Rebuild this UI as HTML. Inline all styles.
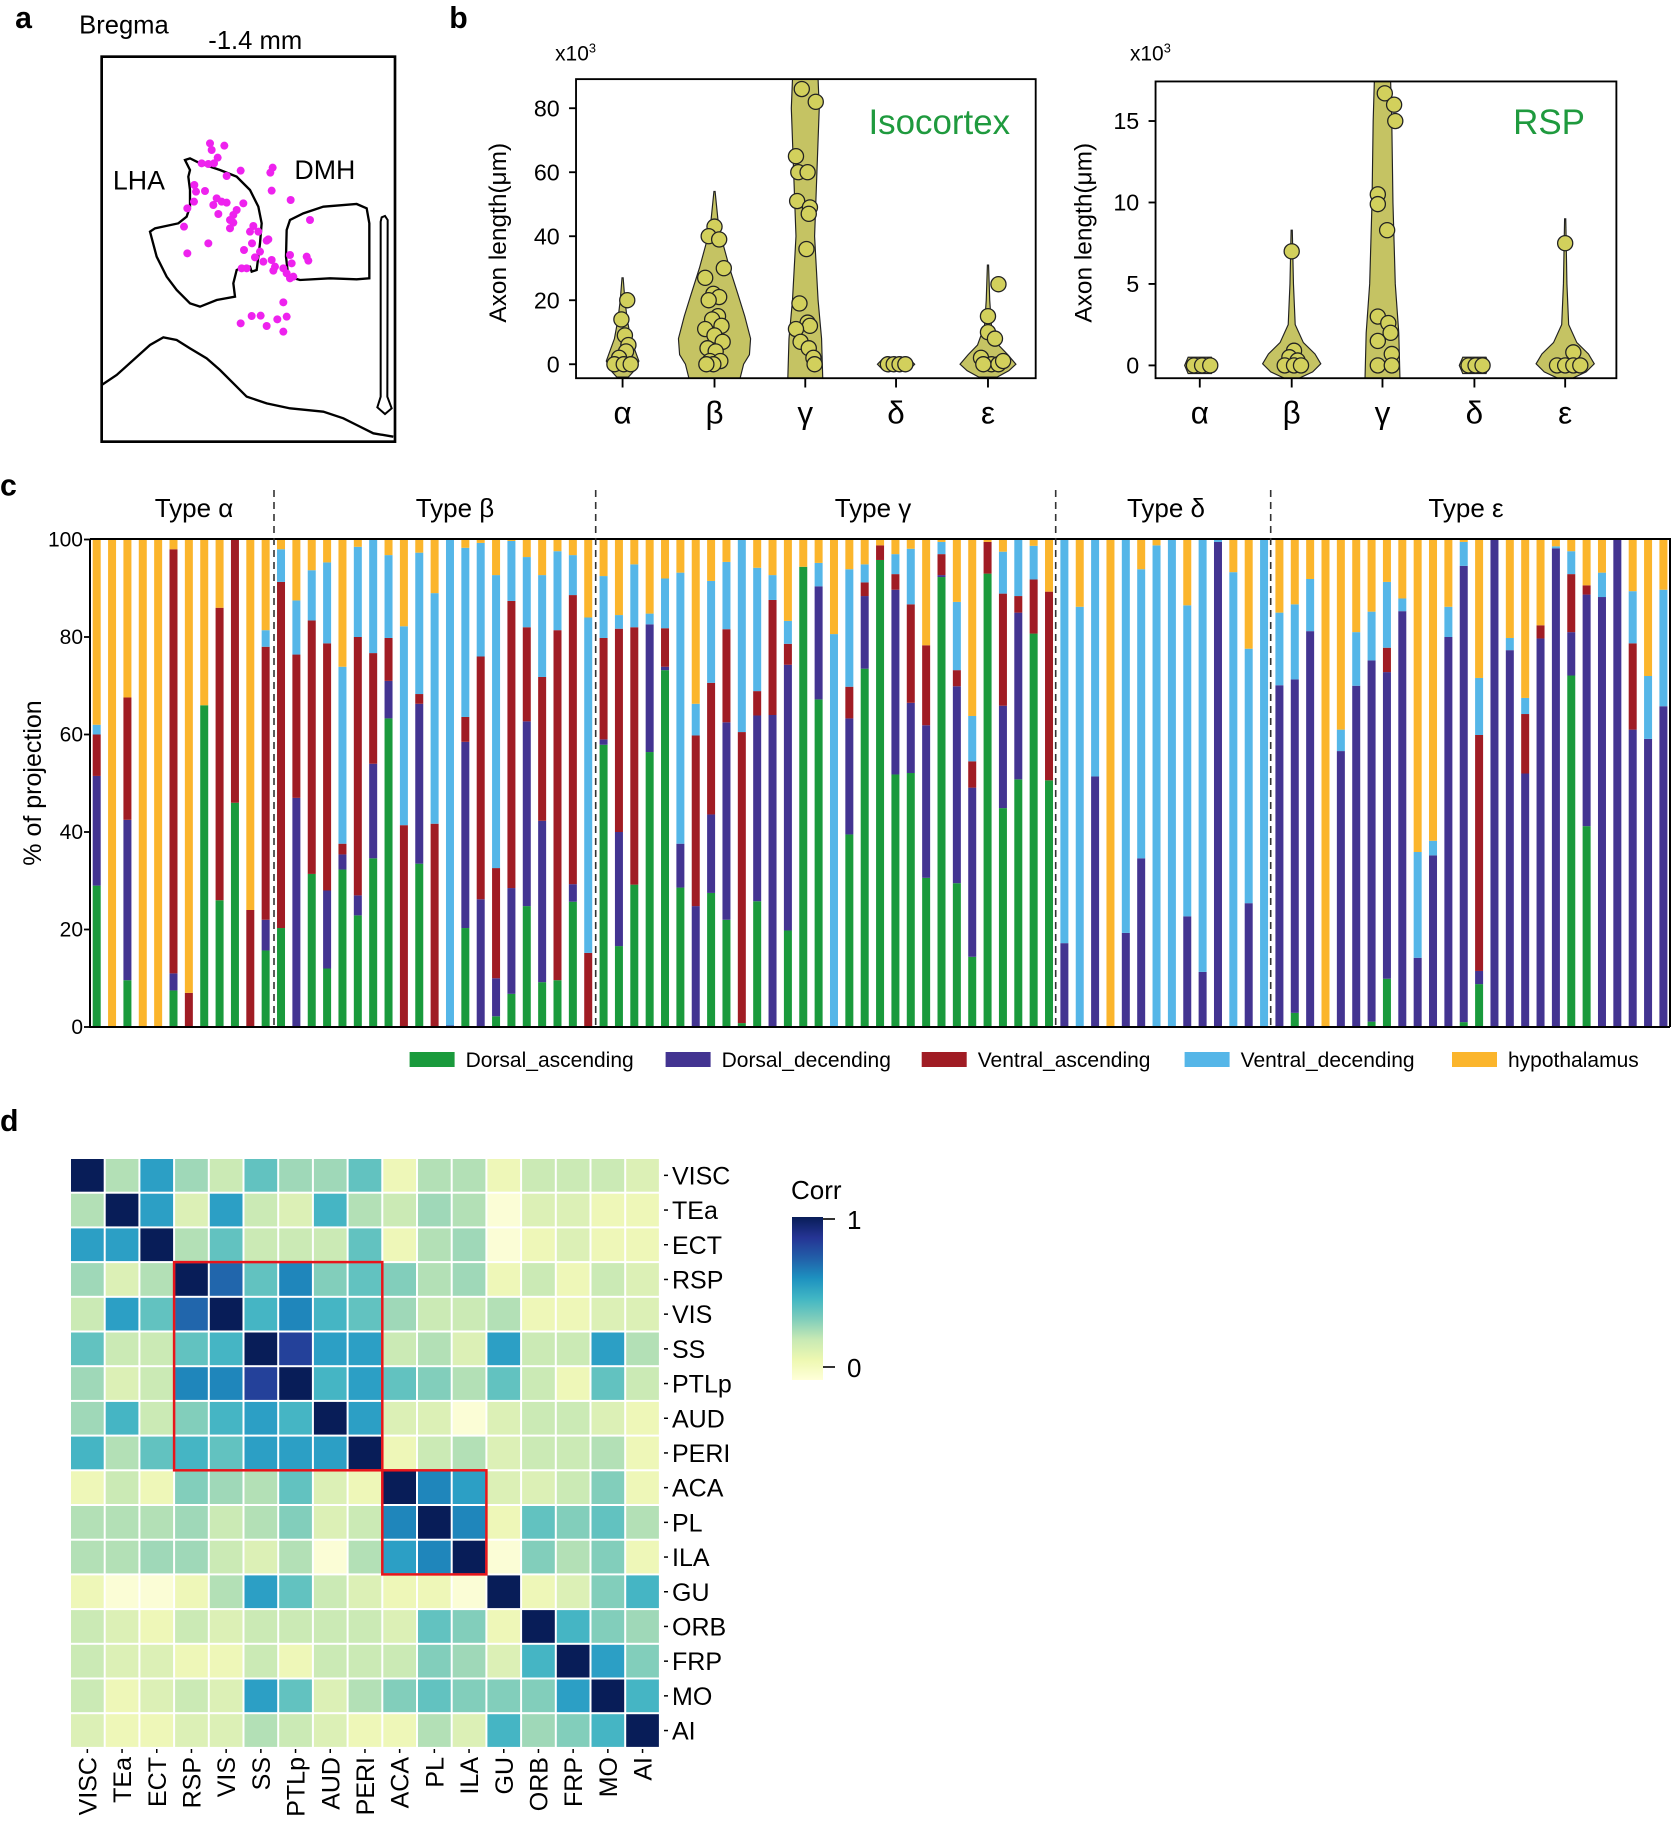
<!DOCTYPE html>
<html><head><meta charset="utf-8">
<style>
html,body{margin:0;padding:0;background:#fff;}
svg{display:block;font-family:"Liberation Sans",Arial,sans-serif;}
</style></head>
<body>
<svg id="s" width="1671" height="1824" viewBox="0 0 1671 1824" xmlns="http://www.w3.org/2000/svg">
<g transform="translate(90,50) scale(0.33333)" fill="none" stroke="#000" stroke-width="7">
  <rect x="35" y="20" width="880" height="1155" stroke-width="8"/>
  <path d="M285,330 L300,325 L330,340 L390,360 L440,380 L480,420 L505,470 L515,520 L510,580 L505,620 L500,660 L485,665 L480,650 L460,650 L440,660 L430,700 L435,740 L380,750 L330,770 L300,760 L260,720 L230,680 L200,620 L180,545 L195,535 L265,520 L290,500 L300,470 L300,420 L295,380 L300,360 Z"/>
  <path d="M590,540 L600,510 L640,490 L700,470 L800,462 L830,475 L838,520 L838,685 L800,688 L720,685 L630,690 L595,680 L588,620 Z"/>
  <path d="M35,1005 L80,975 L130,930 L180,885 L220,862 L260,870 L300,895 L350,925 L390,960 L430,1000 L470,1040 L530,1060 L600,1075 L700,1085 L760,1105 L800,1125 L850,1150 L910,1160"/>
  <path d="M872,515 L875,502 L885,498 L893,510 L892,1040 L905,1075 L885,1092 L862,1072 L872,1040 Z" stroke-width="6"/>
</g>
<g transform="translate(90,50) scale(0.33333)" fill="#ee22ee" id="dots"></g>
<g transform="scale(1.1637)">
  <text x="13" y="24" font-size="26" font-weight="bold">a</text>
  <text x="68" y="29" font-size="22">Bregma</text>
  <text x="179" y="42" font-size="22">-1.4 mm</text>
  <text x="97" y="163" font-size="23">LHA</text>
  <text x="253" y="154" font-size="23">DMH</text>
  <text x="386" y="24" font-size="26" font-weight="bold">b</text>
  <text x="0" y="972" font-size="26" font-weight="bold">d</text>
  <text x="0" y="426" font-size="26" font-weight="bold">c</text>
  <g id="vl"></g>
  <rect x="495" y="68" width="395" height="257" fill="none" stroke="#000" stroke-width="1.6"/>
  <text x="477" y="52" font-size="18">x10<tspan font-size="11" dy="-7">3</tspan></text>
  <text x="971" y="52" font-size="18">x10<tspan font-size="11" dy="-7">3</tspan></text>
  <text transform="translate(435,200) rotate(-90)" text-anchor="middle" font-size="21">Axon length(μm)</text>
  <text transform="translate(938,200) rotate(-90)" text-anchor="middle" font-size="21">Axon length(μm)</text>
  <text x="868" y="115" text-anchor="end" font-size="30" fill="#1f9a3e">Isocortex</text>
  <text x="1362" y="115" text-anchor="end" font-size="30" fill="#1f9a3e">RSP</text>
  <g id="vr"></g>
  <rect x="993" y="70" width="396" height="255" fill="none" stroke="#000" stroke-width="1.6"/>
</g>
<g id="bars"></g>
<g id="heat"></g>
</svg>
<script>
var NS="http://www.w3.org/2000/svg";
function el(p,t,a,txt){var e=document.createElementNS(NS,t);for(var k in a)e.setAttribute(k,a[k]);if(txt!==undefined)e.textContent=txt;p.appendChild(e);return e;}
var D=[[360,280],[365,300],[403,287],[383,323],[372,340],[335,340],[355,342],[410,378],[452,362],[548,353],[541,368],[313,405],[318,425],[345,423],[312,455],[292,475],[380,445],[370,465],[395,455],[410,458],[460,460],[440,480],[430,495],[385,492],[420,510],[430,518],[420,535],[490,528],[480,545],[505,545],[535,568],[530,572],[486,580],[462,600],[510,605],[495,622],[520,635],[455,655],[470,655],[545,630],[555,650],[550,662],[580,655],[600,615],[605,640],[590,670],[610,680],[600,685],[650,620],[655,632],[355,580],[292,610],[282,530],[545,422],[602,450],[660,510],[580,757],[452,820],[485,798],[512,797],[530,828],[562,808],[590,800],[580,845]];
var dg=document.getElementById('dots');D.forEach(function(d){el(dg,'circle',{cx:d[0],cy:d[1],r:12});});
var VC="#c5c363",PC="#d2d05c";
function violin(g,x,pts){
  var d="M"+x+","+pts[0][0];
  pts.forEach(function(p){d+=" L"+(x+p[1])+","+p[0];});
  for(var i=pts.length-1;i>=0;i--)d+=" L"+(x-pts[i][1])+","+pts[i][0];
  d+="Z";el(g,'path',{d:d,fill:VC,stroke:"#222","stroke-width":1});
}
function dots(g,arr){arr.forEach(function(p){el(g,'circle',{cx:p[0],cy:p[1],r:6.5,fill:PC,stroke:"#222","stroke-width":1.1});});}
var vl=document.getElementById('vl');
function yl(v){return 313-v*2.75;}
violin(vl,535,[[yl(27),0.5],[yl(20),2],[yl(14),4],[yl(8),7],[yl(4),11],[yl(1),14],[yl(-2),10],[yl(-4),5]]);
violin(vl,614,[[yl(54),0.5],[yl(45),3],[yl(38),7],[yl(30),13],[yl(22),20],[yl(15),26],[yl(8),31],[yl(3),30],[yl(0),25],[325,22]]);
violin(vl,692,[[68,11],[yl(80),12],[yl(60),10],[yl(40),8],[yl(20),11],[yl(8),14],[325,15]]);
violin(vl,770,[[yl(1.5),12],[yl(0),16],[yl(-1.5),12]]);
violin(vl,849,[[yl(31),0.5],[yl(20),1.5],[yl(12),3],[yl(6),9],[yl(3),17],[yl(0),24],[yl(-2),18],[yl(-4),8]]);
dots(vl,[[539,yl(20)],[534,yl(14)],[537,yl(9)],[540,yl(6)],[538,yl(4)],[532,yl(2)],[528,yl(0)],[536,yl(0)],[542,yl(0)],
[614,yl(43)],[609,yl(40)],[618,yl(39)],[622,yl(30)],[606,yl(27)],[613,yl(22)],[618,yl(21)],[609,yl(20)],[617,yl(15)],[612,yl(14)],[620,yl(12)],[606,yl(11)],[614,yl(9)],[621,yl(7)],[608,yl(5)],[615,yl(4)],[610,yl(1)],[619,yl(1)],[613,yl(0)],[607,yl(0)],
[689,yl(86)],[701,yl(82)],[684,yl(65)],[686,yl(60)],[694,yl(60)],[685,yl(51)],[696,yl(49)],[695,yl(47)],[693,yl(36)],[687,yl(19)],[694,yl(13)],[696,yl(12)],[684,yl(11)],[688,yl(7)],[695,yl(5)],[699,yl(2)],[700,yl(0)],
[763,yl(0)],[768,yl(0)],[773,yl(0)],[778,yl(0)],
[858,yl(25)],[849,yl(15)],[849,yl(10)],[855,yl(8)],[843,yl(2)],[852,yl(0)],[858,yl(0)],[845,yl(0)],[862,yl(1)]]);
function tk(g,x1,y1,x2,y2){el(g,'line',{x1:x1,y1:y1,x2:x2,y2:y2,stroke:"#000","stroke-width":1.6});}
[0,20,40,60,80].forEach(function(v){tk(vl,489,yl(v),495,yl(v));el(vl,'text',{x:481,y:yl(v)+7,"text-anchor":"end","font-size":20},v);});
var G=["α","β","γ","δ","ε"];
[535,614,692,770,849].forEach(function(x,i){tk(vl,x,325,x,333);el(vl,'text',{x:x,y:364,"text-anchor":"middle","font-size":27},G[i]);});
var vr=document.getElementById('vr');
function yr(v){return 314-v*14;}
violin(vr,1031,[[yr(0.5),10],[yr(0),13],[yr(-0.5),10]]);
violin(vr,1110,[[yr(8.3),0.5],[yr(5),1.5],[yr(2.5),3],[yr(1.4),10],[yr(0.7),20],[yr(0.1),25],[yr(-0.4),18],[yr(-0.8),6]]);
violin(vr,1188,[[70,7],[yr(15),8],[yr(10),9],[yr(5),11],[yr(2),14],[325,15]]);
violin(vr,1267,[[yr(0.5),10],[yr(0),13],[yr(-0.5),10]]);
violin(vr,1345,[[yr(9),0.5],[yr(5),1.5],[yr(2.5),3],[yr(1.4),10],[yr(0.7),20],[yr(0.1),25],[yr(-0.4),18],[yr(-0.8),6]]);
dots(vr,[[1026,yr(0)],[1033,yr(0)],[1040,yr(0)],
[1110,yr(7)],[1112,yr(0.9)],[1108,yr(0.5)],[1115,yr(0.3)],[1104,yr(0)],[1112,yr(0)],[1118,yr(0)],
[1190,yr(16.7)],[1198,yr(16)],[1199,yr(15)],[1184,yr(10.5)],[1184,yr(9.9)],[1192,yr(8.3)],[1184,yr(3)],[1193,yr(2.6)],[1195,yr(2)],[1184,yr(1.5)],[1196,yr(0.7)],[1184,yr(0)],[1196,yr(0)],
[1262,yr(0)],[1268,yr(0)],[1274,yr(0)],
[1345,yr(7.5)],[1352,yr(0.8)],[1338,yr(0)],[1345,yr(0)],[1352,yr(0)],[1358,yr(0)]]);
[0,5,10,15].forEach(function(v){tk(vr,987,yr(v),993,yr(v));el(vr,'text',{x:979,y:yr(v)+7,"text-anchor":"end","font-size":20},v);});
[1031,1110,1188,1267,1345].forEach(function(x,i){tk(vr,x,325,x,333);el(vr,'text',{x:x,y:364,"text-anchor":"middle","font-size":27},G[i]);});
var B=[[29,51.5,60,62],[0,0,0,0],[9.6,42.5,67.6,67.6],[0,0,0,0],[0,0,0,0],[7.5,11,98,98],[0,0,7,7],[66,66,66,66],[26,26,86,86],[46,46,100,100],[0,0,24,24],[15.7,22,78,81.4],
[20.3,20.3,91.3,98],[0,47,76.4,87.5],[31.4,31.4,83.4,93.7],[12,28,78.7,95.3],[32.3,35.4,37.6,73.9],[22.9,27,80,98.5],[34.6,54,76.7,100],[63.3,71,79.8,96.8],[0,0,41.4,82.2],[33.5,66.3,68.3,97.3],[0,0,41.7,89],[0,0.3,0.3,100],[20.3,58.5,63.6,98.3],[0,26.2,76,99.3],[2.2,10,32.6,92.7],[6.8,28.5,87.4,99.7],[24.8,62.7,82,96.4],[9.2,42.3,71.8,92.7],[9.6,9.6,81.4,97.6],[25.7,29.3,88.6,96.8],[0,0,15.2,84],
[57.9,59,79.8,92.5],[16.6,40,81.7,84.5],[29.2,29.2,82,94.9],[56.4,82.6,82.6,84.8],[73.2,73.9,81.8,92],[28.6,37.6,37.6,93.2],[0,24.8,59.8,66.3],[27.5,43.6,70.6,91.5],[22,62.5,81.6,95.4],[0.8,0.8,60.5,100],[25.8,63.9,68.9,94.2],[0,64,87.6,92.7],[19.8,74.3,78.6,83.3],[94.4,94.4,94.4,94.4],[67.2,90.4,90.4,95.2],[0,0,0,80.6],[39.5,63.3,69.8,93.9],[73.5,88.4,91.2,94.9],[95.8,95.8,98.8,98.8],[51.8,89.7,92.9,97],[52.1,66.5,86.7,98.1],[30.6,61.9,78.3,78.3],[92.3,92.7,97,99.5],[29.5,69.9,73.2,87.2],[14.4,49.1,54.5,63.8],[93,93,99.5,99.5],[44.9,65.9,88.9,97.5],[50.8,85,88.4,100],[80.7,80.7,91.8,98.7],[50.6,50.6,89.3,89.3],
[0,17.2,17.2,100],[0,0,0,86.2],[0,51.4,51.4,100],[0,0,0,0],[0,19.3,19.3,100],[0,34.6,34.6,93.9],[0,0,0,98.8],[0,0,0,100],[0,22.7,22.7,86.5],[0,11.3,11.3,100],[0,99.5,99.5,100],[0,0,0,93.3],[0,25.4,25.4,77.6],[0,0,0,100],
[0,70.1,70.1,85],[2.9,71.3,71.3,86.7],[0,81.2,81.2,91.9],[0,0,0,0],[0,56.6,56.6,61],[0,70,70,81],[1.1,75.2,75.2,85.2],[9.9,72.8,77.8,91.3],[0,85.3,85.3,87.9],[0,14.2,14.2,35.9],[0,35.2,35.2,38.2],[0,80,80,86.2],[1,94.6,94.6,99.5],[8.8,11.5,59.9,71.6],[0,100,100,100],[0,77.3,77.3,79.8],[0,52,64.2,67.5],[0,79.7,82.4,82.4],[0,98.2,98.2,98.6],[72.1,81,92.9,97.6],[41.2,88.7,90.6,90.6],[0,88.2,88.2,93.2],[0,100,100,100],[0,61,78.7,89.4],[0,59.1,59.1,72],[0,65.8,65.8,89.7]];
var C=["#1a9a3c","#433491","#a01c24","#55b6e8","#fbb52c"];
var bg=document.getElementById('bars');
var Y0=1027,H=4.875;
function yc(v){return Y0-v*H;}
B.forEach(function(b,i){var x=96.7+i*15.36-4;var prev=0;var vals=b.concat([100]);
 vals.forEach(function(v,k){if(v>prev){el(bg,'rect',{x:x,y:yc(v),width:8,height:(v-prev)*H,fill:C[k]});prev=v;}});});
el(bg,'path',{d:"M90,539 L1670,539 L1670,1027 M90,539 L90,1027 L1670,1027",fill:"none",stroke:"#000","stroke-width":2});
[0,20,40,60,80,100].forEach(function(v){el(bg,'line',{x1:84,y1:yc(v),x2:90,y2:yc(v),stroke:"#000","stroke-width":1.8});el(bg,'text',{x:83,y:yc(v)+7,"text-anchor":"end","font-size":21},v);});
[274,595.7,1055.7,1270.7].forEach(function(x){el(bg,'line',{x1:x,y1:490,x2:x,y2:1027,stroke:"#333","stroke-width":1.6,"stroke-dasharray":"7,5"});});
[["Type α",194],["Type β",455],["Type γ",873],["Type δ",1166],["Type ε",1466]].forEach(function(t){el(bg,'text',{x:t[1],y:517,"text-anchor":"middle","font-size":26},t[0]);});
el(bg,'text',{transform:"translate(41,783) rotate(-90)","text-anchor":"middle","font-size":25},"% of projection");
var L=[["Dorsal_ascending",409.6],["Dorsal_decending",665.6],["Ventral_ascending",921.7],["Ventral_decending",1184.6],["hypothalamus",1452]];
L.forEach(function(l,i){el(bg,'rect',{x:l[1],y:1052,width:45,height:15,fill:C[i]});el(bg,'text',{x:l[1]+56,y:1067,"font-size":21},l[0]);});
var P=["#fbfdd6","#eef7b8","#dcf0b6","#cbeab5","#b3e0b6","#9fd8b8","#82cebb","#62c2c0","#45b5c4","#2c9fc5","#1f86bb","#2166ac","#24419a","#081d58"];
var M=[[13,4,9,5,3,7,5,5,7,1,4,4,1,3,3,3,2],[4,13,9,2,9,3,2,8,4,3,5,4,0,2,2,1,1],[9,9,13,4,7,3,3,3,7,1,4,5,0,1,2,1,1],[5,2,4,13,11,7,10,6,7,6,4,5,1,3,1,3,2],[3,9,7,11,13,8,10,8,7,5,3,3,4,1,1,2,2],[7,3,3,7,8,13,12,9,9,3,4,2,9,3,3,9,4],[5,2,3,10,10,12,13,8,9,7,6,4,7,3,1,7,3],[5,8,3,6,8,9,8,13,9,2,2,0,2,3,3,2,1],[8,4,7,8,7,9,9,9,13,1,3,4,2,3,3,4,1],[1,3,1,6,5,4,7,2,1,13,10,9,2,2,3,6,1],[4,4,4,5,3,4,6,2,3,10,13,10,1,7,6,7,4],[4,4,5,5,3,2,4,0,4,9,10,13,0,6,4,6,1],[1,0,0,1,4,9,7,3,2,1,1,0,13,1,2,6,8],[3,2,1,3,2,3,3,3,3,2,7,6,1,13,8,6,5],[3,2,2,1,1,3,1,3,3,3,6,5,2,8,13,9,6],[3,1,2,3,2,9,7,2,4,6,7,6,6,6,9,13,8],[2,1,1,2,2,4,3,2,1,1,4,2,8,5,6,8,13]];
var N=["VISC","TEa","ECT","RSP","VIS","SS","PTLp","AUD","PERI","ACA","PL","ILA","GU","ORB","FRP","MO","AI"];
var hg=document.getElementById('heat');var X0=70,YH=1158,S=34.7;
M.forEach(function(r,i){r.forEach(function(c,j){el(hg,'rect',{x:X0+j*S+1,y:YH+i*S+1,width:S-2,height:S-2,fill:P[c]});});});
N.forEach(function(n,i){var cy=YH+i*S+S/2;el(hg,'line',{x1:664,y1:cy,x2:668,y2:cy,stroke:"#000","stroke-width":1.5});el(hg,'text',{x:672,y:cy+9,"font-size":25},n);
 var cx=X0+i*S+S/2;el(hg,'line',{x1:cx,y1:1749,x2:cx,y2:1753,stroke:"#000","stroke-width":1.5});el(hg,'text',{transform:"translate("+(cx+9)+",1757) rotate(-90)","text-anchor":"end","font-size":25},n);});
el(hg,'rect',{x:X0+3*S,y:YH+3*S,width:6*S,height:6*S,fill:"none",stroke:"#e8151b","stroke-width":2.5});
el(hg,'rect',{x:X0+9*S,y:YH+9*S,width:3*S,height:3*S,fill:"none",stroke:"#e8151b","stroke-width":2.5});
var defs=el(document.getElementById('s'),'defs',{});var lg=el(defs,'linearGradient',{id:"cb",x1:0,y1:1,x2:0,y2:0});
["#ffffd9","#edf8b1","#c7e9b4","#7fcdbb","#41b6c4","#1d91c0","#225ea8","#253494","#081d58"].forEach(function(c,i){el(lg,'stop',{offset:(i/8),"stop-color":c});});
el(hg,'rect',{x:792,y:1217,width:31,height:163,fill:"url(#cb)"});
el(hg,'line',{x1:823,y1:1219,x2:835,y2:1219,stroke:"#000","stroke-width":1.6});
el(hg,'line',{x1:823,y1:1367,x2:835,y2:1367,stroke:"#000","stroke-width":1.6});
el(hg,'text',{x:847,y:1229,"font-size":26},"1");
el(hg,'text',{x:847,y:1377,"font-size":26},"0");
el(hg,'text',{x:791,y:1199,"font-size":26},"Corr");
</script>
</body></html>
